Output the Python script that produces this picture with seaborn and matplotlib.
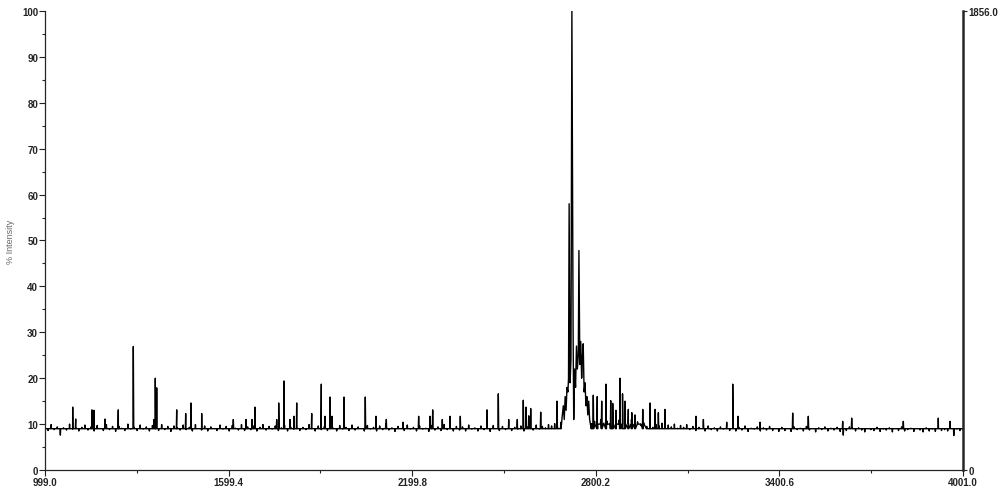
import numpy as np
import pandas as pd
import matplotlib
matplotlib.use("Agg")
import matplotlib.pyplot as plt
import seaborn as sns

# x-axis range and tick labels
mz_min, mz_max = 999.0, 4001.0
x_ticks = [999.0, 1599.4, 2199.8, 2800.2, 3400.6, 4001.0]
max_counts = 1856.0
baseline = 9.0

# baseline noise (% intensity), evenly sampled over the m/z range
noise_int = [
    9.5, 8.6, 9.9, 8.8, 9.4, 7.6, 9.2, 8.7, 10.0, 8.9, 9.6, 8.5, 9.3, 9.8, 8.7,
    9.4, 8.5, 9.7, 9.0, 8.6, 9.9, 8.8, 9.5, 8.4, 9.6, 9.1, 8.6, 10.0, 8.9, 9.3,
    8.6, 9.8, 8.9, 9.4, 8.5, 9.7, 9.0, 8.6, 9.9, 8.8, 9.5, 8.4, 9.6, 9.2, 8.7,
    9.8, 8.8, 9.3, 8.5, 9.9, 9.0, 8.7, 9.6, 8.5, 9.4, 9.0, 8.6, 9.8, 8.9, 9.5,
    8.5, 9.7, 9.1, 8.7, 9.9, 8.6, 9.4, 8.8, 9.6, 8.5, 9.3, 9.9, 8.7, 9.5, 8.9,
    9.6, 8.6, 9.2, 9.8, 8.5, 9.4, 8.9, 9.7, 8.6, 9.3, 8.8, 9.9, 9.0, 8.5, 9.6,
    8.8, 9.5, 8.6, 9.9, 9.1, 8.5, 9.7, 8.9, 9.3, 8.6, 9.8, 8.7, 9.4, 9.0, 8.5,
    9.7, 8.9, 9.3, 8.5, 9.6, 8.8, 10.0, 8.7, 9.2, 8.4, 9.5, 9.0, 8.6, 9.8, 8.9,
    9.3, 8.5, 9.6, 8.9, 9.1, 8.4, 9.7, 8.7, 9.4, 8.6, 9.9, 8.8, 9.2, 8.5, 9.5,
    8.7, 9.4, 8.5, 9.8, 8.9, 9.2, 8.5, 9.6, 8.8, 9.3, 8.4, 9.7, 9.0, 8.6, 9.5,
    8.8, 9.9, 8.6, 9.3, 8.9, 9.6, 8.5, 9.4, 9.0, 8.7, 9.8, 8.9, 9.5, 9.2, 9.9,
    9.6, 10.1, 9.2, 10.4, 9.5, 9.9, 10.2, 9.6, 10.5, 9.8, 10.3, 10.0, 10.8, 10.1, 10.6,
    9.8, 11.0, 10.2, 10.7, 9.9, 11.3, 10.4, 10.9, 9.8, 10.6, 10.1, 11.0, 9.9, 10.5, 9.7,
    10.3, 9.5, 10.1, 9.3, 9.9, 9.6, 10.2, 9.2, 9.8, 9.4, 10.0, 9.1, 9.7, 9.3, 9.9,
    8.8, 9.5, 8.6, 9.3, 9.0, 8.5, 9.6, 8.8, 9.2, 8.5, 9.4, 8.9, 9.7, 8.6, 9.1,
    8.5, 9.3, 8.7, 9.6, 8.4, 9.1, 8.9, 9.4, 8.5, 9.2, 8.7, 9.5, 8.6, 9.0, 8.4,
    9.3, 8.6, 9.0, 8.4, 9.4, 8.8, 9.1, 8.5, 9.5, 8.7, 9.0, 8.3, 9.2, 8.8, 9.4,
    8.5, 9.1, 8.7, 9.3, 8.4, 7.6, 8.6, 9.4, 9.1, 8.5, 9.2, 8.7, 8.3, 9.0, 8.8,
    8.6, 9.3, 8.4, 8.9, 8.7, 9.2, 8.3, 9.0, 8.6, 9.4, 8.5, 8.8, 9.1, 8.4, 9.0,
    8.7, 8.3, 9.2, 8.5, 8.9, 8.4, 9.1, 8.6, 8.8, 8.5, 9.0, 7.5, 8.9, 8.6, 8.8,
]

# isolated peaks (m/z, % intensity)
peak_mz = [
    1089.6, 1099.4, 1152.7, 1159.2, 1195.2, 1238.7, 1287.8, 1355.5, 1359.7, 1364.3,
    1429.7, 1459.1, 1476.4, 1511.4, 1614.8, 1656.3, 1676.0, 1685.7, 1756.7, 1763.2,
    1780.6, 1800.2, 1813.3, 1822.1, 1871.2, 1902.6, 1914.7, 1931.0, 1937.5, 1976.8,
    2046.4, 2081.4, 2115.1, 2169.7, 2220.9, 2257.9, 2266.8, 2298.2, 2323.4, 2357.1,
    2444.4, 2481.4, 2515.4, 2543.5, 2563.1, 2572.0, 2580.8, 2587.3, 2620.0, 2673.3,
    2792.0, 2805.0, 2819.5, 2833.6, 2849.0, 2855.5, 2866.0, 2879.4, 2887.6, 2895.8,
    2906.6, 2917.8, 2928.6, 2953.8, 2977.7, 2994.0, 3004.8, 3026.7, 3128.0, 3152.0,
    3228.3, 3248.0, 3265.3, 3337.2, 3444.1, 3495.1, 3607.6, 3637.0, 3805.8, 3920.2,
    3958.5,
]
peak_int = [
    13.7, 11.1, 13.1, 13.0, 11.1, 13.1, 26.9, 11.0, 20.0, 17.9,
    13.1, 12.3, 14.6, 12.3, 11.0, 11.0, 11.0, 13.7, 11.0, 14.6,
    19.4, 11.0, 11.7, 14.6, 12.3, 18.7, 11.7, 15.9, 11.7, 15.9,
    15.9, 11.7, 11.0, 10.4, 11.7, 11.7, 13.1, 11.0, 11.7, 11.7,
    13.1, 16.6, 11.0, 11.0, 15.2, 13.7, 11.8, 13.4, 12.6, 15.0,
    16.3, 16.0, 15.0, 18.7, 15.1, 14.5, 13.0, 20.0, 16.6, 15.0,
    13.2, 12.5, 12.0, 13.2, 14.6, 13.2, 12.5, 13.2, 11.7, 11.0,
    10.4, 18.7, 11.7, 10.4, 12.4, 11.7, 10.6, 11.3, 10.6, 11.3,
    10.6,
]

# profile of the main cluster
cluster_mz = [
    2690, 2694, 2697, 2700, 2703, 2706, 2709, 2711, 2713, 2716, 2719, 2722,
    2726, 2728, 2731, 2734, 2737, 2740, 2743, 2745, 2748, 2751, 2754, 2756,
    2759, 2762, 2765, 2768, 2771, 2774, 2777, 2780,
]
cluster_int = [
    11.5, 14.0, 11.0, 16.0, 13.0, 18.0, 17.0, 20.0, 58.0, 19.0, 24.0, 100.0,
    30.0, 11.0, 22.0, 18.0, 27.0, 22.0, 25.0, 47.8, 23.0, 28.0, 20.0, 24.0,
    27.5, 17.0, 19.0, 14.0, 16.0, 12.0, 15.0, 11.0,
]

# assemble the trace: every sample drawn as a stick off the baseline
rows = []
noise_mz = np.linspace(mz_min, mz_max, len(noise_int))
for m, v in zip(noise_mz, noise_int):
    if 2686 < m < 2782:
        continue
    base = baseline + 1.0 if 2790 < m < 2960 else baseline
    rows += [(m - 1.0, base), (m, v), (m + 1.0, base)]
for m, h in zip(peak_mz, peak_int):
    rows += [(m - 1.2, baseline), (m, h), (m + 1.2, baseline)]
rows += list(zip(cluster_mz, cluster_int))
df = pd.DataFrame(rows, columns=["mz", "intensity"]).sort_values("mz")

sns.set_style("ticks")
plt.rcParams["font.family"] = ["Liberation Sans", "DejaVu Sans"]

fig = plt.figure(figsize=(10, 4.89), dpi=100)
ax = fig.add_axes([0.045, 0.0368, 0.918, 0.9387])

sns.lineplot(data=df, x="mz", y="intensity", sort=False, estimator=None,
             color="black", lw=1.0, ax=ax)

ax.set_xlim(mz_min, mz_max)
ax.set_ylim(0, 100)
ax.set_xticks(x_ticks)
ax.set_xticklabels([f"{t:.1f}" for t in x_ticks])
ax.set_xticks([(a + b) / 2 for a, b in zip(x_ticks[:-1], x_ticks[1:])], minor=True)
ax.set_yticks(range(0, 101, 10))
ax.set_yticks(range(5, 100, 10), minor=True)
ax.tick_params(axis="both", which="major", length=4, width=0.8, labelsize=7,
               colors="#222222", pad=1)
ax.tick_params(axis="both", which="minor", length=2.5, width=0.8)
for lab in ax.get_xticklabels() + ax.get_yticklabels():
    lab.set_fontweight("bold")
ax.set_xlabel("")
ax.set_ylabel("% Intensity", fontsize=6.5, color="#666666", labelpad=5)
ax.spines["top"].set_visible(False)
ax.spines["right"].set_visible(False)
for s in ["left", "bottom"]:
    ax.spines[s].set_linewidth(0.9)

ax2 = ax.twinx()
ax2.set_ylim(0, max_counts)
ax2.set_yticks([0, max_counts])
ax2.set_yticklabels(["0", f"{max_counts:.1f}"])
ax2.tick_params(axis="y", length=3, width=0.8, labelsize=7, colors="#222222", pad=1)
for lab in ax2.get_yticklabels():
    lab.set_fontweight("bold")
for s in ["top", "left", "bottom"]:
    ax2.spines[s].set_visible(False)
ax2.spines["right"].set_linewidth(1.8)

fig.savefig("out.png", dpi=100)
